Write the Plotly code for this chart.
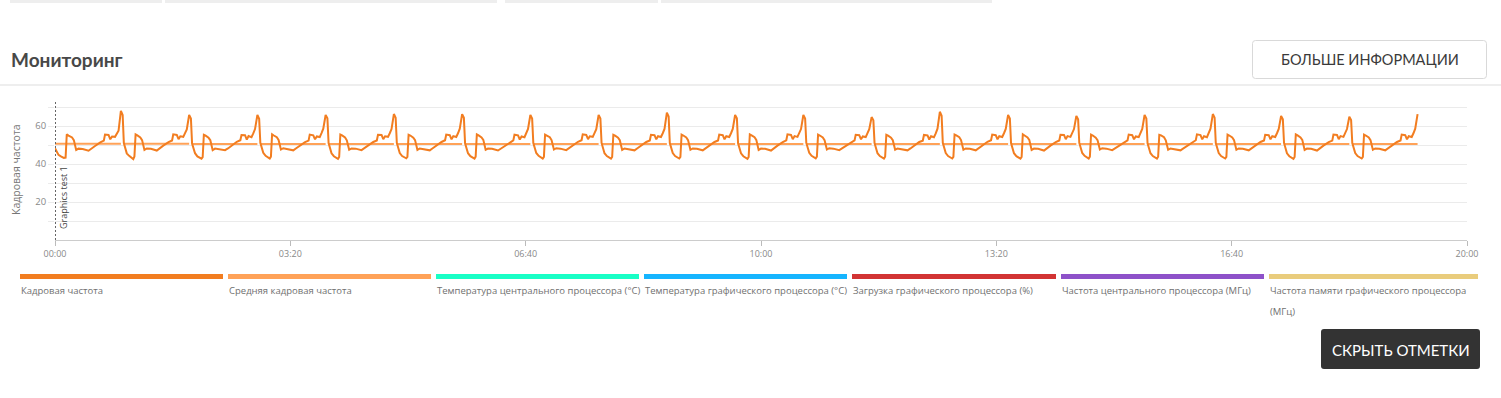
import plotly.graph_objects as go

# ---------------- data ----------------
fps_time = [
    0, 1.5, 3, 5, 7.5, 9, 10, 11.5, 14.5, 16, 18, 20, 23.5, 28.5, 31, 34, 38.5, 41.5, 42.5, 45.5, 47, 48.5, 51, 52.5, 54,
    56, 57.5, 58.5, 60, 61, 63, 64.5, 66.5, 67.5, 68.5, 70, 72.5, 74, 76, 78, 81.5, 86.5, 89, 92, 96.5, 99.5, 100.5, 103.5, 105, 106.5, 109, 110.5, 112,
    114, 115.5, 116.5, 118, 119, 121, 122.5, 124.5, 125.5, 126.5, 128, 130.5, 132, 134, 136, 139.5, 144.5, 147, 150, 154.5, 157.5, 158.5, 161.5, 163, 164.5, 167, 168.5, 170,
    172, 173.5, 174.5, 176, 177, 179, 180.5, 182.5, 183.5, 184.5, 186, 188.5, 190, 192, 194, 197.5, 202.5, 205, 208, 212.5, 215.5, 216.5, 219.5, 221, 222.5, 225, 226.5, 228,
    230, 231.5, 232.5, 234, 235, 237, 238.5, 240.5, 241.5, 242.5, 244, 246.5, 248, 250, 252, 255.5, 260.5, 263, 266, 270.5, 273.5, 274.5, 277.5, 279, 280.5, 283, 284.5, 286,
    288, 289.5, 290.5, 292, 293, 295, 296.5, 298.5, 299.5, 300.5, 302, 304.5, 306, 308, 310, 313.5, 318.5, 321, 324, 328.5, 331.5, 332.5, 335.5, 337, 338.5, 341, 342.5, 344,
    346, 347.5, 348.5, 350, 351, 353, 354.5, 356.5, 357.5, 358.5, 360, 362.5, 364, 366, 368, 371.5, 376.5, 379, 382, 386.5, 389.5, 390.5, 393.5, 395, 396.5, 399, 400.5, 402,
    404, 405.5, 406.5, 408, 409, 411, 412.5, 414.5, 415.5, 416.5, 418, 420.5, 422, 424, 426, 429.5, 434.5, 437, 440, 444.5, 447.5, 448.5, 451.5, 453, 454.5, 457, 458.5, 460,
    462, 463.5, 464.5, 466, 467, 469, 470.5, 472.5, 473.5, 474.5, 476, 478.5, 480, 482, 484, 487.5, 492.5, 495, 498, 502.5, 505.5, 506.5, 509.5, 511, 512.5, 515, 516.5, 518,
    520, 521.5, 522.5, 524, 525, 527, 528.5, 530.5, 531.5, 532.5, 534, 536.5, 538, 540, 542, 545.5, 550.5, 553, 556, 560.5, 563.5, 564.5, 567.5, 569, 570.5, 573, 574.5, 576,
    578, 579.5, 580.5, 582, 583, 585, 586.5, 588.5, 589.5, 590.5, 592, 594.5, 596, 598, 600, 603.5, 608.5, 611, 614, 618.5, 621.5, 622.5, 625.5, 627, 628.5, 631, 632.5, 634,
    636, 637.5, 638.5, 640, 641, 643, 644.5, 646.5, 647.5, 648.5, 650, 652.5, 654, 656, 658, 661.5, 666.5, 669, 672, 676.5, 679.5, 680.5, 683.5, 685, 686.5, 689, 690.5, 692,
    694, 695.5, 696.5, 698, 699, 701, 702.5, 704.5, 705.5, 706.5, 708, 710.5, 712, 714, 716, 719.5, 724.5, 727, 730, 734.5, 737.5, 738.5, 741.5, 743, 744.5, 747, 748.5, 750,
    752, 753.5, 754.5, 756, 757, 759, 760.5, 762.5, 763.5, 764.5, 766, 768.5, 770, 772, 774, 777.5, 782.5, 785, 788, 792.5, 795.5, 796.5, 799.5, 801, 802.5, 805, 806.5, 808,
    810, 811.5, 812.5, 814, 815, 817, 818.5, 820.5, 821.5, 822.5, 824, 826.5, 828, 830, 832, 835.5, 840.5, 843, 846, 850.5, 853.5, 854.5, 857.5, 859, 860.5, 863, 864.5, 866,
    868, 869.5, 870.5, 872, 873, 875, 876.5, 878.5, 879.5, 880.5, 882, 884.5, 886, 888, 890, 893.5, 898.5, 901, 904, 908.5, 911.5, 912.5, 915.5, 917, 918.5, 921, 922.5, 924,
    926, 927.5, 928.5, 930, 931, 933, 934.5, 936.5, 937.5, 938.5, 940, 942.5, 944, 946, 948, 951.5, 956.5, 959, 962, 966.5, 969.5, 970.5, 973.5, 975, 976.5, 979, 980.5, 982,
    984, 985.5, 986.5, 988, 989, 991, 992.5, 994.5, 995.5, 996.5, 998, 1000.5, 1002, 1004, 1006, 1009.5, 1014.5, 1017, 1020, 1024.5, 1027.5, 1028.5, 1031.5, 1033, 1034.5, 1037, 1038.5, 1040,
    1042, 1043.5, 1044.5, 1046, 1047, 1049, 1050.5, 1052.5, 1053.5, 1054.5, 1056, 1058.5, 1060, 1062, 1064, 1067.5, 1072.5, 1075, 1078, 1082.5, 1085.5, 1086.5, 1089.5, 1091, 1092.5, 1095, 1096.5, 1098,
    1100, 1101.5, 1102.5, 1104, 1105, 1107, 1108.5, 1110.5, 1111.5, 1112.5, 1114, 1116.5, 1118, 1120, 1122, 1125.5, 1130.5, 1133, 1136, 1140.5, 1143.5, 1144.5, 1147.5, 1149, 1150.5, 1153, 1154.5, 1156,
    1158,
]

fps_value = [
    48.3, 46.2, 44.8, 44, 43.2, 43.4, 55.6, 55, 54, 52.6, 47.4, 48.1, 47.9, 47, 48.3, 49.5, 51.4, 52.3, 55.5, 55.3, 53, 54.5, 54.3, 56, 57.5,
    68, 65.8, 51, 47.4, 45.6, 44.3, 43.5, 42.6, 44, 55.6, 55.1, 54, 52.6, 47.4, 48.2, 48, 47.1, 48.4, 49.7, 51.5, 52.4, 55.6, 55.3, 53.1, 54.6, 54.3, 56.4, 58.2,
    65.8, 64, 50.8, 47.6, 45.7, 44, 43.3, 42.8, 43.6, 55.4, 54.9, 53.8, 52.5, 47.3, 48.1, 47.9, 47.3, 48.2, 49.5, 51.7, 52.5, 55.3, 55.2, 52.9, 54.7, 54.1, 56.1, 58.4,
    65.8, 63.8, 51.2, 47.5, 45.9, 44.3, 43.7, 42.9, 43.9, 55.6, 55, 54.1, 52.7, 47.6, 48.3, 48, 47.2, 48.3, 49.6, 51.5, 52.3, 55.5, 55.1, 53, 54.5, 54.2, 56.3, 58.6,
    65.8, 64.1, 51, 47.3, 45.6, 44.1, 43.5, 42.7, 43.7, 55.5, 55.1, 54, 52.5, 47.5, 48.2, 48.1, 47.3, 48.4, 49.6, 51.6, 52.4, 55.4, 55.3, 53.1, 54.6, 54.3, 56.2, 58.4,
    66.3, 64.4, 51.1, 47.6, 45.8, 44.2, 43.6, 43, 43.8, 55.4, 55, 53.9, 52.6, 47.4, 48.2, 47.9, 47.2, 48.3, 49.7, 51.6, 52.5, 55.5, 55.2, 53, 54.7, 54.2, 56.2, 58.6,
    66.3, 64.3, 50.9, 47.5, 45.7, 44.1, 43.4, 42.8, 43.9, 55.6, 55.1, 54, 52.7, 47.5, 48.1, 48, 47.1, 48.2, 49.5, 51.5, 52.4, 55.4, 55.1, 52.9, 54.5, 54.1, 56.1, 58.5,
    65.8, 64, 51, 47.4, 45.8, 44.3, 43.7, 42.9, 43.8, 55.5, 55, 54.1, 52.6, 47.6, 48.3, 48.1, 47.3, 48.4, 49.7, 51.7, 52.5, 55.6, 55.3, 53.1, 54.6, 54.3, 56.3, 58.3,
    65.8, 63.9, 51.1, 47.5, 45.7, 44.2, 43.5, 42.8, 43.7, 55.4, 54.9, 53.9, 52.5, 47.4, 48.2, 47.9, 47.2, 48.3, 49.6, 51.6, 52.4, 55.4, 55.2, 53, 54.6, 54.2, 56.2, 58.5,
    67, 65, 51, 47.5, 45.8, 44.2, 43.6, 42.9, 43.8, 55.5, 55, 54, 52.6, 47.5, 48.2, 48, 47.2, 48.3, 49.6, 51.6, 52.4, 55.5, 55.2, 53, 54.6, 54.2, 56.2, 58.5,
    65.8, 64.1, 50.9, 47.4, 45.6, 44.1, 43.4, 42.7, 43.7, 55.6, 55.1, 54.1, 52.7, 47.4, 48.1, 48, 47.1, 48.4, 49.7, 51.5, 52.5, 55.6, 55.3, 53.1, 54.7, 54.3, 56.3, 58.4,
    65.8, 64, 51.1, 47.6, 45.9, 44.3, 43.7, 43, 43.9, 55.5, 55, 54, 52.6, 47.6, 48.3, 48.1, 47.3, 48.3, 49.6, 51.6, 52.4, 55.4, 55.2, 53, 54.5, 54.2, 56.2, 58.3,
    64.7, 63, 51, 47.5, 45.7, 44.2, 43.5, 42.8, 43.8, 55.4, 54.9, 53.9, 52.5, 47.5, 48.2, 47.9, 47.2, 48.2, 49.5, 51.6, 52.3, 55.3, 55.1, 52.9, 54.6, 54.1, 56.1, 58.6,
    67.5, 65.4, 51.2, 47.5, 45.8, 44.2, 43.6, 42.9, 43.8, 55.5, 55.1, 54.1, 52.6, 47.5, 48.2, 48, 47.2, 48.3, 49.6, 51.7, 52.5, 55.5, 55.2, 53, 54.6, 54.2, 56.2, 58.5,
    65.8, 64, 51, 47.4, 45.7, 44.1, 43.5, 42.8, 43.7, 55.6, 55, 54, 52.7, 47.4, 48.1, 48, 47.1, 48.4, 49.7, 51.5, 52.4, 55.4, 55.3, 53.1, 54.7, 54.3, 56.3, 58.4,
    65.3, 63.6, 51.1, 47.6, 45.8, 44.3, 43.6, 42.9, 43.9, 55.5, 55, 53.9, 52.6, 47.6, 48.3, 48.1, 47.3, 48.3, 49.6, 51.6, 52.4, 55.5, 55.2, 53, 54.5, 54.2, 56.2, 58.5,
    65.8, 64, 50.9, 47.5, 45.7, 44.2, 43.5, 42.8, 43.8, 55.4, 55.1, 54.1, 52.5, 47.5, 48.2, 47.9, 47.2, 48.2, 49.5, 51.6, 52.5, 55.6, 55.2, 53, 54.6, 54.1, 56.1, 58.6,
    66.3, 64.4, 51, 47.5, 45.8, 44.2, 43.6, 42.9, 43.8, 55.5, 55, 54, 52.6, 47.5, 48.2, 48, 47.2, 48.3, 49.6, 51.6, 52.4, 55.4, 55.2, 53, 54.6, 54.2, 56.2, 58.5,
    65.3, 63.5, 51.1, 47.4, 45.6, 44.1, 43.4, 42.7, 43.7, 55.6, 55.1, 54, 52.7, 47.4, 48.1, 48, 47.1, 48.4, 49.7, 51.5, 52.3, 55.5, 55.3, 53.1, 54.7, 54.3, 56.3, 58.4,
    64.9, 63.2, 51, 47.5, 45.8, 44.2, 43.6, 42.9, 43.8, 55.5, 55, 54, 52.6, 47.5, 48.2, 48, 47.2, 48.3, 49.6, 51.6, 52.4, 55.5, 55.2, 53, 54.6, 54.2, 56.2, 58.6,
    66.3,
]

avg_seg_start = [0, 58.3, 116.3, 174.3, 232.3, 290.3, 348.3, 406.3, 464.3, 522.3,
                 580.3, 638.3, 696.3, 754.3, 812.3, 870.3, 928.3, 986.3, 1044.3, 1102.3]
avg_seg_end = [56, 114, 172, 230, 288, 346, 404, 462, 520, 578,
               636, 694, 752, 810, 868, 926, 984, 1042, 1100, 1158]
avg_seg_value = [50.7, 50.7, 50.6, 50.6, 50.6, 50.6, 50.6, 50.6, 50.6, 50.6,
                 50.6, 50.6, 50.6, 50.6, 50.6, 50.6, 50.6, 50.6, 50.5, 50.5]

x_tick_vals = [0, 200, 400, 600, 800, 1000, 1200]
x_tick_text = ["00:00", "03:20", "06:40", "10:00", "13:20", "16:40", "20:00"]
y_tick_vals = [20, 40, 60]

marker_time = 0
marker_label = "Graphics test 1"

legend_labels = [
    "Кадровая частота",
    "Средняя кадровая частота",
    "Температура центрального процессора (°C)",
    "Температура графического процессора (°C)",
    "Загрузка графического процессора (%)",
    "Частота центрального процессора (МГц)",
    "Частота памяти графического процессора",
]
legend_colors = ["#F27D20", "#FFA258", "#19FFC6", "#16B5FF", "#D23434", "#8E52C9", "#E9CC7C"]

# ---------------- layout helpers (pixel -> paper) ----------------
W, H = 1501, 398
L, R, T, B = 55, 34, 100, 158
PW, PH = W - L - R, H - T - B


def px(x):
    return (x - L) / PW


def py(y):
    return (H - B - y) / PH


def rounded_rect(x0, y0, x1, y1, r):
    pts = [
        ("M", [(x0 + r, y0)]),
        ("L", [(x1 - r, y0)]),
        ("Q", [(x1, y0), (x1, y0 + r)]),
        ("L", [(x1, y1 - r)]),
        ("Q", [(x1, y1), (x1 - r, y1)]),
        ("L", [(x0 + r, y1)]),
        ("Q", [(x0, y1), (x0, y1 - r)]),
        ("L", [(x0, y0 + r)]),
        ("Q", [(x0, y0), (x0 + r, y0)]),
    ]
    s = ""
    for cmd, ps in pts:
        s += cmd + " " + " ".join(f"{px(a):.6f},{py(b):.6f}" for a, b in ps) + " "
    return s + "Z"


# ---------------- traces ----------------
avg_x, avg_y = [], []
for s, e, v in zip(avg_seg_start, avg_seg_end, avg_seg_value):
    avg_x += [s, e, None]
    avg_y += [v, v, None]

fig = go.Figure()
fig.add_trace(go.Scatter(x=avg_x, y=avg_y, mode="lines",
                         line=dict(color=legend_colors[1], width=2),
                         connectgaps=False, showlegend=False, hoverinfo="skip"))
fig.add_trace(go.Scatter(x=fps_time, y=fps_value, mode="lines",
                         line=dict(color=legend_colors[0], width=2),
                         showlegend=False))

shapes = []
annotations = []

# top tab strips
for a, b in [(10, 162), (165, 497), (505, 658), (661, 992)]:
    shapes.append(dict(type="rect", xref="paper", yref="paper", x0=px(a), x1=px(b),
                       y0=py(0), y1=py(3), fillcolor="#EEEEEE", line=dict(width=0), layer="below"))

# header separator
shapes.append(dict(type="line", xref="paper", yref="paper", x0=px(0), x1=px(W),
                   y0=py(85), y1=py(85), line=dict(color="#DDDDDD", width=1)))

# "more info" button
shapes.append(dict(type="path", xref="paper", yref="paper",
                   path=rounded_rect(1252.5, 40.5, 1486.5, 78.5, 3),
                   fillcolor="#FFFFFF", line=dict(color="#D9D9D9", width=1)))
annotations.append(dict(text="БОЛЬШЕ ИНФОРМАЦИИ", xref="paper", yref="paper",
                        x=px(1369.5), y=py(59.5), xanchor="center", yanchor="middle",
                        showarrow=False, font=dict(family="Lato, 'Open Sans', sans-serif", size=14.5, color="#3A3A3A")))

# title
annotations.append(dict(text="<b>Мониторинг</b>", xref="paper", yref="paper",
                        x=px(9), y=py(60), xanchor="left", yanchor="middle",
                        showarrow=False, font=dict(family="Lato, 'Open Sans', sans-serif", size=19, color="#484848")))

# y-axis title
annotations.append(dict(text="Кадровая частота", xref="paper", yref="paper",
                        x=px(16), y=py(170), xanchor="center", yanchor="middle", textangle=-90,
                        showarrow=False, font=dict(family="'Open Sans', sans-serif", size=10.5, color="#777777")))

# event marker
shapes.append(dict(type="line", xref="x", yref="paper", x0=marker_time, x1=marker_time,
                   y0=0, y1=1, line=dict(color="#666666", width=2, dash="2px,2px")))
annotations.append(dict(text=marker_label, xref="x", yref="paper",
                        x=marker_time, xshift=8, y=py(198), xanchor="center", yanchor="middle", textangle=-90,
                        showarrow=False, font=dict(family="'Open Sans', sans-serif", size=9, color="#444444")))

# custom legend
bar_x = [(20, 223), (228, 431), (436, 639), (644, 847), (852, 1056), (1061, 1264), (1269, 1478)]
for (a, b), col, lab in zip(bar_x, legend_colors, legend_labels):
    shapes.append(dict(type="rect", xref="paper", yref="paper", x0=px(a), x1=px(b),
                       y0=py(279), y1=py(274), fillcolor=col, line=dict(width=0)))
    annotations.append(dict(text=lab, xref="paper", yref="paper", x=px(a - 1), y=py(290),
                            xanchor="left", yanchor="middle", showarrow=False,
                            font=dict(family="'Open Sans', sans-serif", size=9.5, color="#707070")))
annotations.append(dict(text="(МГц)", xref="paper", yref="paper", x=px(1268), y=py(311),
                        xanchor="left", yanchor="middle", showarrow=False,
                        font=dict(family="'Open Sans', sans-serif", size=9.5, color="#707070")))

# "hide marks" button
shapes.append(dict(type="path", xref="paper", yref="paper",
                   path=rounded_rect(1321, 329, 1480, 369, 3),
                   fillcolor="#333333", line=dict(width=0)))
annotations.append(dict(text="СКРЫТЬ ОТМЕТКИ", xref="paper", yref="paper",
                        x=px(1400.5), y=py(350), xanchor="center", yanchor="middle",
                        showarrow=False, font=dict(family="Lato, 'Open Sans', sans-serif", size=15, color="#FFFFFF")))

fig.update_layout(
    width=W, height=H,
    margin=dict(l=L, r=R, t=T, b=B, pad=0),
    paper_bgcolor="white", plot_bgcolor="white",
    showlegend=False,
    shapes=shapes, annotations=annotations,
    font=dict(family="'Open Sans', sans-serif", color="#888888"),
    xaxis=dict(range=[0, 1200], tickvals=x_tick_vals, ticktext=x_tick_text,
               showgrid=False, zeroline=False, showline=True, linecolor="#CCCCCC", linewidth=1,
               ticks="outside", ticklen=5, tickcolor="#BBBBBB",
               tickfont=dict(size=9, color="#888888")),
    yaxis=dict(range=[0, 73.7], tickvals=y_tick_vals,
               showgrid=True, gridcolor="#EBEBEB", gridwidth=1, zeroline=False, showline=False,
               ticks="outside", ticklen=6, tickcolor="#EBEBEB",
               tickfont=dict(size=9.5, color="#888888"),
               minor=dict(tickvals=[10, 30, 50, 70], showgrid=True, gridcolor="#EBEBEB",
                          ticks="outside", ticklen=6, tickcolor="#EBEBEB")),
)

fig.write_html("out.html", config={"displayModeBar": False},
               post_script="document.body.style.margin='0';document.body.style.overflow='hidden';")
